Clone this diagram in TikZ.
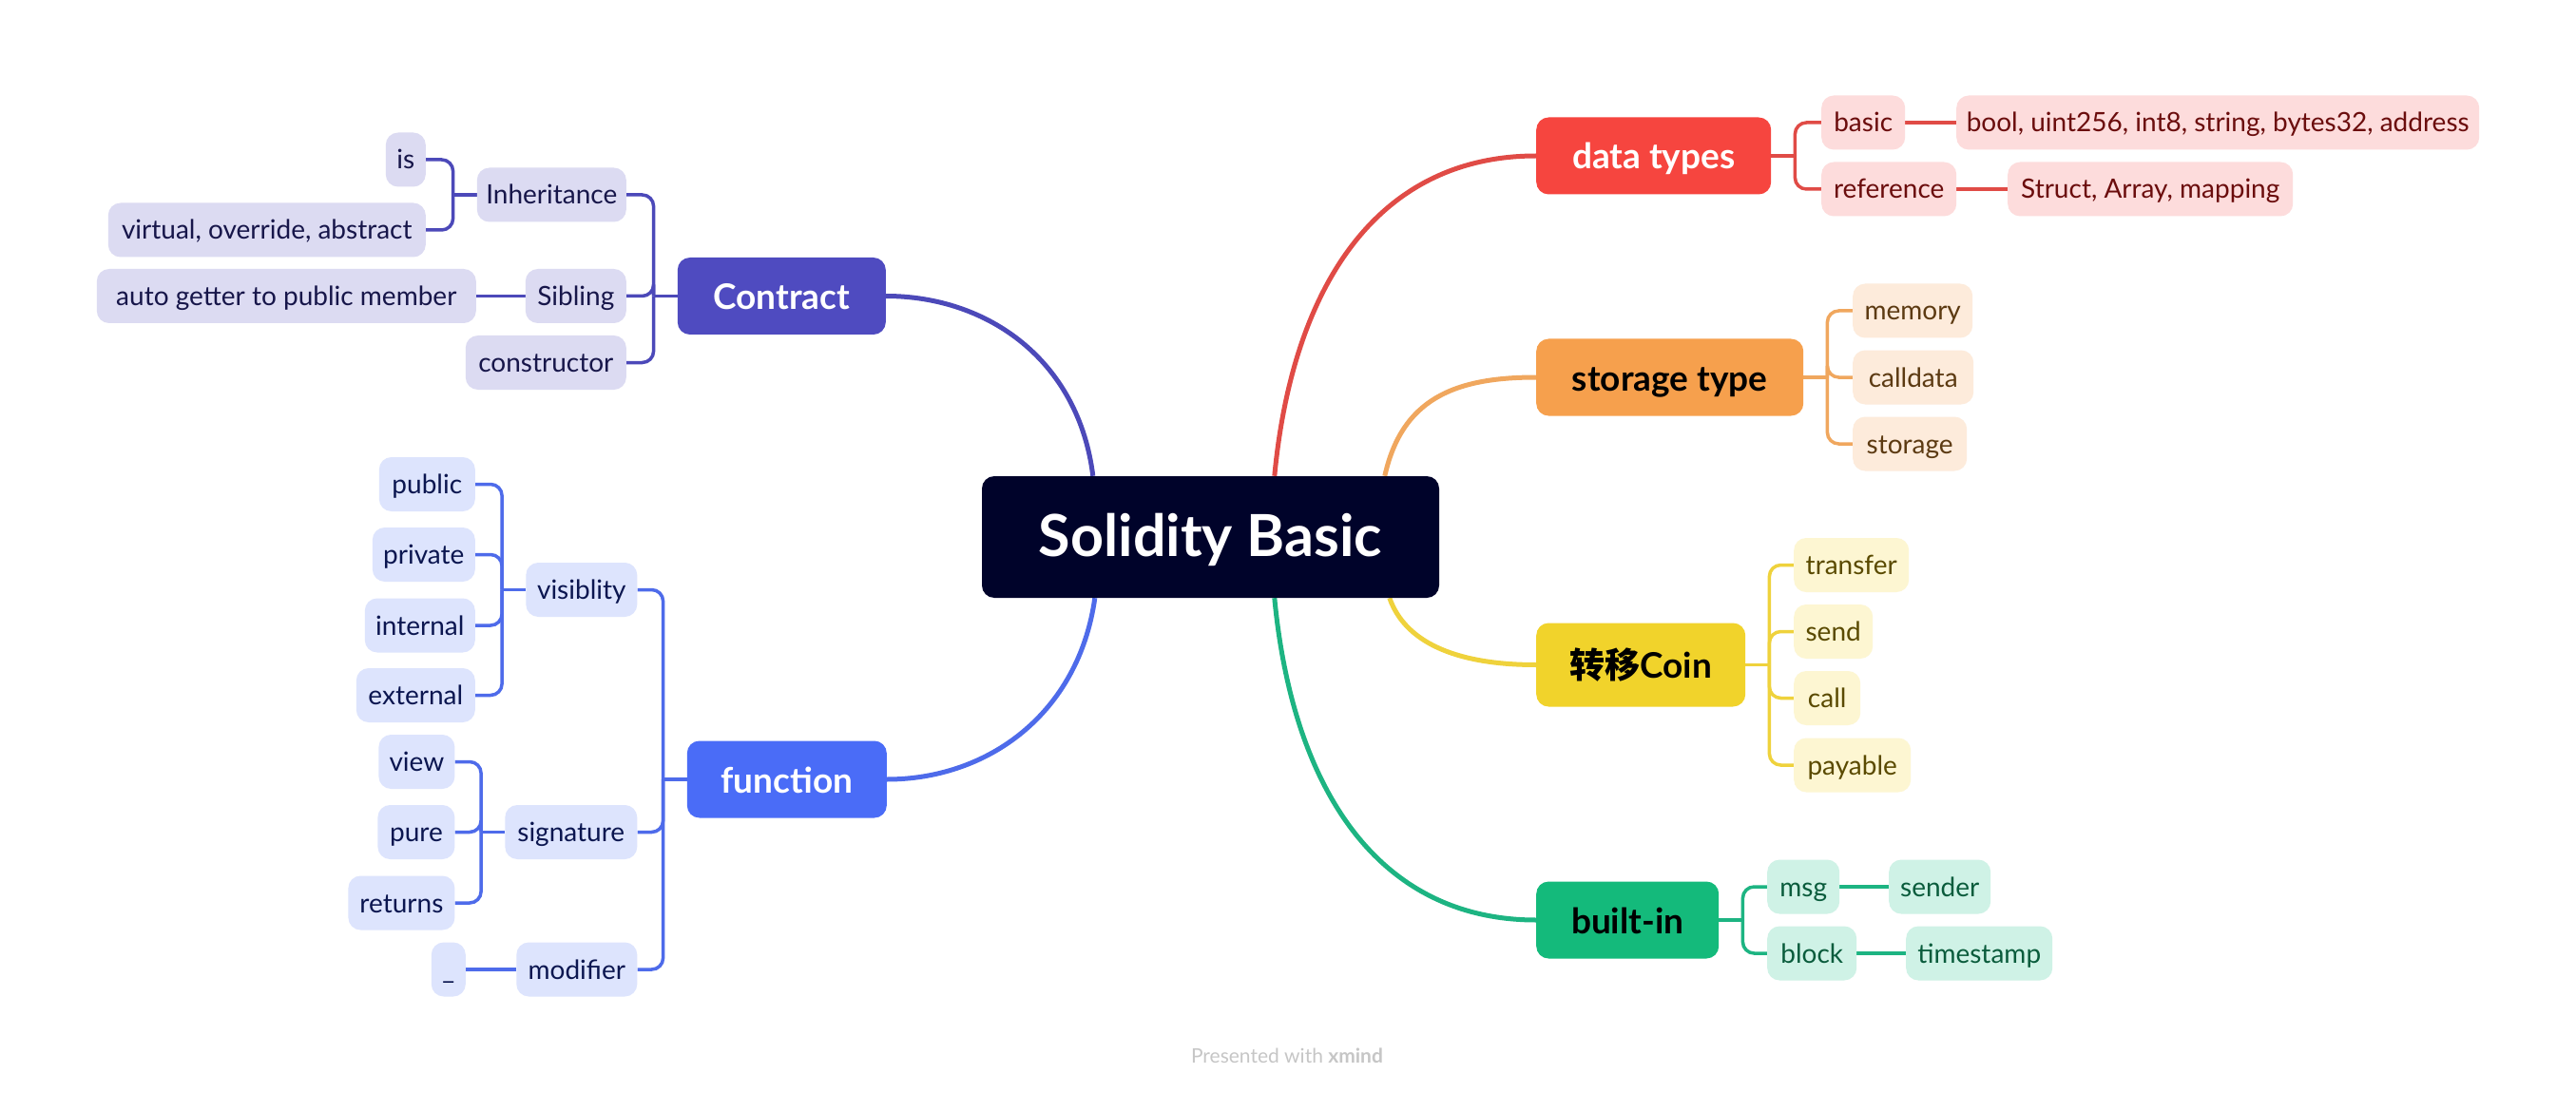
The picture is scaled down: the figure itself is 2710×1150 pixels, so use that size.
\documentclass[tikz,border=0pt]{standalone}
\usepackage{fontspec}
\setmainfont{Lato}
\newfontfamily\cjk{Noto Sans CJK SC}
\usetikzlibrary{calc}
\pgfdeclarelayer{bg}
\pgfsetlayers{bg,main}
\definecolor{rootc}{HTML}{00032A}
\definecolor{cA}{HTML}{4F4BC0}\definecolor{cAl}{HTML}{4C49B9}\definecolor{cAf}{HTML}{DCDBF2}\definecolor{cAt}{HTML}{17164A}
\definecolor{cB}{HTML}{4A6CF7}\definecolor{cBl}{HTML}{4E6BEA}\definecolor{cBf}{HTML}{DDE4FD}\definecolor{cBt}{HTML}{0B1650}
\definecolor{cC}{HTML}{F6453F}\definecolor{cCl}{HTML}{E04B46}\definecolor{cCf}{HTML}{FDDCDC}\definecolor{cCt}{HTML}{6B0D0D}
\definecolor{cD}{HTML}{F6A04D}\definecolor{cDl}{HTML}{F0A75E}\definecolor{cDf}{HTML}{FDEBDB}\definecolor{cDt}{HTML}{5C3A12}
\definecolor{cE}{HTML}{F1D32B}\definecolor{cEl}{HTML}{EFD23C}\definecolor{cEf}{HTML}{FDF6D2}\definecolor{cEt}{HTML}{5A4A00}
\definecolor{cF}{HTML}{14BA7B}\definecolor{cFl}{HTML}{1DB482}\definecolor{cFf}{HTML}{CFF2E6}\definecolor{cFt}{HTML}{0A5C3C}
\definecolor{foot}{HTML}{C6C6C6}
\tikzset{
  box/.style={rounded corners=13pt, inner sep=0pt, align=center},
  sub/.style={box, minimum height=57pt, text height=26pt, text depth=6pt, font=\fontsize{28}{32}\selectfont},
  topic/.style={box, minimum height=81pt, text height=36pt, text depth=8pt, font=\fontsize{37}{42}\selectfont\bfseries},
  conn/.style={line width=3.5pt},
  mainline/.style={line width=5pt},
  sA/.style={sub, fill=cAf, text=cAt}, sB/.style={sub, fill=cBf, text=cBt},
  sC/.style={sub, fill=cCf, text=cCt}, sD/.style={sub, fill=cDf, text=cDt},
  sE/.style={sub, fill=cEf, text=cEt}, sF/.style={sub, fill=cFf, text=cFt},
}
\newcommand\rbranch[3]{%
  \draw[conn,#2] (#1.east) -- ++(25,0) coordinate (#1-j);
  \foreach \c in {#3} {\draw[conn,#2,rounded corners=12pt] (#1-j) |- (\c.west);}}
\newcommand\lbranch[3]{%
  \draw[conn,#2] (#1.west) -- ++(-25,0) coordinate (#1-j);
  \foreach \c in {#3} {\draw[conn,#2,rounded corners=12pt] (#1-j) |- (\c.east);}}
\begin{document}
\begin{tikzpicture}[x=1pt,y=-1pt]
\begin{pgfonlayer}{bg}
\fill[white] (0,0) rectangle (2710,1150);
\end{pgfonlayer}
\useasboundingbox (0,0) rectangle (2710,1150);

% root
\node[box, fill=rootc, text=white, minimum width=481pt, minimum height=128pt, text height=54pt, text depth=13pt,
  font=\fontsize{61}{66}\selectfont\bfseries] (root) at (1273.5,565) {Solidity Basic};

% main topics
\node[topic, fill=cA, text=white, minimum width=219pt, anchor=east] (contract) at (932,311.5) {Contract};
\node[topic, fill=cB, text=white, minimum width=210pt, anchor=east] (function) at (933,820) {function};
\node[topic, fill=cC, text=white, minimum width=247pt, anchor=west] (data) at (1616,164) {data types};
\node[topic, fill=cD, text=black, minimum width=281pt, anchor=west] (storaget) at (1616,397) {storage type};
\node[topic, fill=cE, text=black, minimum width=220pt, minimum height=88pt, anchor=west] (coin) at (1616,699.5) {{\cjk\bfseries 转移}Coin};
\node[topic, fill=cF, text=black, minimum width=192pt, anchor=west] (builtin) at (1616,968) {built-in};

% Contract children
\node[sA, minimum width=157pt, anchor=east] (inherit) at (659,205) {Inheritance};
\node[sA, minimum width=106pt, anchor=east] (sibling) at (659,311.5) {Sibling};
\node[sA, minimum width=169pt, anchor=east] (ctor) at (659,381.5) {constructor};
\node[sA, minimum width=42pt, anchor=east] (is) at (448,168) {is};
\node[sA, minimum width=334pt, anchor=east] (virtual) at (448,242) {virtual, override, abstract};
\node[sA, minimum width=399pt, anchor=east] (getter) at (501,311.5) {auto getter to public member};

% function children
\node[sB, minimum width=117pt, anchor=east] (visib) at (670.5,620.5) {visiblity};
\node[sB, minimum width=139pt, anchor=east] (sig) at (670.5,875.5) {signature};
\node[sB, minimum width=127pt, anchor=east] (modif) at (670.5,1020) {modifier};
\node[sB, minimum width=101pt, anchor=east] (public) at (500,509.5) {public};
\node[sB, minimum width=108pt, anchor=east] (private) at (500,583.5) {private};
\node[sB, minimum width=116pt, anchor=east] (internal) at (500,658) {internal};
\node[sB, minimum width=125pt, anchor=east] (external) at (500,731.5) {external};
\node[sB, minimum width=80pt, anchor=east] (view) at (478.6,801.5) {view};
\node[sB, minimum width=81pt, anchor=east] (pure) at (478.6,875.5) {pure};
\node[sB, minimum width=112pt, anchor=east] (returns) at (478.6,950) {returns};
\node[sB, minimum width=36pt, anchor=east] (under) at (490,1020) {\_};

% data types children
\node[sC, minimum width=88pt, anchor=west] (basic) at (1916,129) {basic};
\node[sC, minimum width=142pt, anchor=west] (reference) at (1916,199) {reference};
\node[sC, minimum width=550pt, anchor=west] (bool) at (2058,129) {bool, uint256, int8, string, bytes32, address};
\node[sC, minimum width=300pt, anchor=west] (struct) at (2112,199) {Struct, Array, mapping};

% storage children
\node[sD, minimum width=126pt, anchor=west] (memory) at (1949,327) {memory};
\node[sD, minimum width=127pt, anchor=west] (calldata) at (1949,397) {calldata};
\node[sD, minimum width=120pt, anchor=west] (storage) at (1949,467) {storage};

% coin children
\node[sE, minimum width=121pt, anchor=west] (transfer) at (1887,594.5) {transfer};
\node[sE, minimum width=83pt, anchor=west] (send) at (1887,664.5) {send};
\node[sE, minimum width=70pt, anchor=west] (call) at (1887,734.5) {call};
\node[sE, minimum width=123pt, anchor=west] (payable) at (1887,805) {payable};

% built-in children
\node[sF, minimum width=76pt, anchor=west] (msg) at (1859,933) {msg};
\node[sF, minimum width=94pt, anchor=west] (block) at (1859,1003) {block};
\node[sF, minimum width=107pt, anchor=west] (sender) at (1987,933) {sender};
\node[sF, minimum width=154pt, anchor=west] (timestamp) at (2005,1003) {timestamp};

\node[font=\fontsize{21}{24}\selectfont, text=foot] (footer) at (1354,1111) {Presented with \textbf{xmind}};

\begin{pgfonlayer}{bg}
% main curves
\draw[mainline, cAl] ($(root.north west)+(117,0)$) .. controls +(-15,-121) and +(108,0) .. (contract.east);
\draw[mainline, cBl] ($(root.south west)+(119,0)$) .. controls +(-17,121) and +(107,0) .. (function.east);
\draw[mainline, cCl] ($(root.north west)+(308,0)$) .. controls +(19,-201) and +(-166,0) .. (data.west);
\draw[mainline, cDl] ($(root.north west)+(424,0)$) .. controls +(18,-81) and +(-86,0) .. (storaget.west);
\draw[mainline, cEl] ($(root.south west)+(429,0)$) .. controls +(18,51) and +(-76,0) .. (coin.west);
\draw[mainline, cFl] ($(root.south west)+(308,0)$) .. controls +(19,201) and +(-166,0) .. (builtin.west);

\lbranch{contract}{cAl}{inherit,sibling,ctor}
\lbranch{inherit}{cAl}{is,virtual}
\draw[conn,cAl] (sibling.west) -- (getter.east);
\lbranch{function}{cBl}{visib,sig,modif}
\lbranch{visib}{cBl}{public,private,internal,external}
\lbranch{sig}{cBl}{view,pure,returns}
\draw[conn,cBl] (modif.west) -- (under.east);
\rbranch{data}{cCl}{basic,reference}
\draw[conn,cCl] (basic.east) -- (bool.west);
\draw[conn,cCl] (reference.east) -- (struct.west);
\rbranch{storaget}{cDl}{memory,calldata,storage}
\rbranch{coin}{cEl}{transfer,send,call,payable}
\rbranch{builtin}{cFl}{msg,block}
\draw[conn,cFl] (msg.east) -- (sender.west);
\draw[conn,cFl] (block.east) -- (timestamp.west);
\end{pgfonlayer}
\end{tikzpicture}
\end{document}
